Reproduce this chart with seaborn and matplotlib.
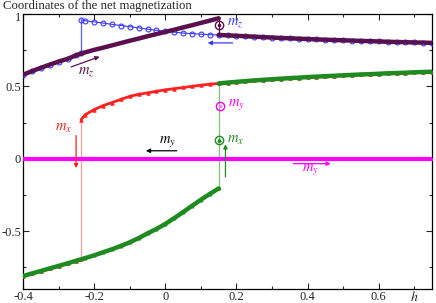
import numpy as np
import pandas as pd
import matplotlib
matplotlib.use('Agg')
import matplotlib.pyplot as plt
import matplotlib.transforms as mtransforms
import seaborn as sns

# sweep up in h (-0.4 -> 0.75), the jump at h = 0.15 shows as a repeated h
h_up = [-0.4, -0.375, -0.35, -0.325, -0.3, -0.275, -0.25, -0.225, -0.2, -0.175,
        -0.15, -0.125, -0.1, -0.075, -0.05, -0.025, 0.0, 0.025, 0.05, 0.075,
        0.1, 0.125, 0.15,
        0.15, 0.175, 0.2, 0.225, 0.25, 0.275, 0.3, 0.325, 0.35, 0.375, 0.4,
        0.425, 0.45, 0.475, 0.5, 0.525, 0.55, 0.575, 0.6, 0.625, 0.65, 0.675,
        0.7, 0.725, 0.75]
mx_up = [-0.81, -0.792, -0.775, -0.757, -0.74, -0.722, -0.704, -0.686, -0.667, -0.646,
         -0.625, -0.602, -0.577, -0.548, -0.515, -0.485, -0.45, -0.41, -0.368, -0.325,
         -0.283, -0.243, -0.205,
         0.52, 0.526, 0.531, 0.536, 0.541, 0.545, 0.549, 0.553, 0.557, 0.56, 0.564,
         0.567, 0.57, 0.573, 0.576, 0.579, 0.582, 0.584, 0.587, 0.59, 0.592, 0.594,
         0.597, 0.599, 0.601]
mz_up = [0.58, 0.605, 0.628, 0.65, 0.671, 0.69, 0.715, 0.735, 0.752, 0.767,
         0.783, 0.799, 0.815, 0.83, 0.846, 0.861, 0.876, 0.891, 0.907, 0.922,
         0.938, 0.954, 0.97,
         0.855, 0.852, 0.849, 0.846, 0.843, 0.84, 0.837, 0.834, 0.832, 0.829, 0.827,
         0.824, 0.822, 0.82, 0.818, 0.816, 0.814, 0.812, 0.81, 0.808, 0.806, 0.805,
         0.803, 0.802, 0.8]

# sweep down in h (0.75 -> -0.4), jump at h = -0.237
h_down = [0.75, 0.725, 0.7, 0.675, 0.65, 0.625, 0.6, 0.575, 0.55, 0.525,
          0.5, 0.475, 0.45, 0.425, 0.4, 0.375, 0.35, 0.325, 0.3, 0.275,
          0.25, 0.225, 0.2, 0.175, 0.15, 0.125, 0.1, 0.075, 0.05, 0.025,
          0.0, -0.025, -0.05, -0.075, -0.1, -0.125, -0.15, -0.175, -0.2, -0.225,
          -0.237,
          -0.237, -0.25, -0.275, -0.3, -0.325, -0.35, -0.375, -0.4]
mx_down = [0.601, 0.599, 0.597, 0.594, 0.592, 0.59, 0.587, 0.584, 0.582, 0.579,
           0.576, 0.573, 0.57, 0.567, 0.564, 0.56, 0.557, 0.553, 0.549, 0.545,
           0.541, 0.536, 0.531, 0.526, 0.52, 0.515, 0.508, 0.5, 0.492, 0.484,
           0.476, 0.466, 0.455, 0.445, 0.431, 0.41, 0.388, 0.367, 0.34, 0.305,
           0.27,
           -0.695, -0.704, -0.722, -0.74, -0.757, -0.775, -0.792, -0.81]
mz_down = [0.8, 0.802, 0.803, 0.805, 0.806, 0.808, 0.81, 0.812, 0.814, 0.816,
           0.818, 0.82, 0.822, 0.824, 0.827, 0.829, 0.832, 0.834, 0.837, 0.84,
           0.843, 0.846, 0.849, 0.852, 0.855, 0.857, 0.86, 0.864, 0.868, 0.874,
           0.88, 0.887, 0.895, 0.904, 0.912, 0.92, 0.928, 0.937, 0.945, 0.953,
           0.96,
           0.729, 0.715, 0.69, 0.671, 0.65, 0.628, 0.605, 0.58]
# m_y stays at zero on both sweeps
my_up = [0.0] * len(h_up)
my_down = [0.0] * len(h_down)

x_ticks = [-0.4, -0.2, 0, 0.2, 0.4, 0.6]
x_labels = ['-0.4', '-0.2', '0', '0.2', '0.4', '0.6']
y_ticks = [-0.5, 0, 0.5, 1]
y_labels = ['-0.5', '0', '0.5', '1']

PURPLE = '#5a0f4e'
BLUE = '#3a3aff'
RED = '#ff2020'
GREEN = '#1f8a1f'
MAGENTA = '#ff00ff'

sns.set_style('ticks')
plt.rcParams['font.family'] = ['Liberation Serif', 'DejaVu Serif']
plt.rcParams['mathtext.fontset'] = 'stix'
plt.rcParams['axes.unicode_minus'] = False


def split_jump(h, m):
    """cut a sweep where h repeats (the jump)"""
    h = np.asarray(h)
    m = np.asarray(m)
    cut = np.flatnonzero(np.diff(h) == 0)[0] + 1
    return (h[:cut], m[:cut]), (h[cut:], m[cut:]), (h[cut - 1:cut + 1], m[cut - 1:cut + 1])


def draw_sweep(ax, h, m, color, jump_color, z, **kw):
    a, b, jump = split_jump(h, m)
    sns.lineplot(x=jump[0], y=jump[1], sort=False, estimator=None, ax=ax,
                 color=jump_color, lw=0.9, zorder=z - 0.5)
    for xs, ys in (a, b):
        sns.lineplot(x=xs, y=ys, sort=False, estimator=None, ax=ax,
                     color=color, zorder=z, **kw)


fig = plt.figure(figsize=(4.36, 3.03), dpi=100)
ax = fig.add_axes([0.053, 0.046, 0.938, 0.908])

# backward sweep first (under), forward sweep on top
draw_sweep(ax, h_down, mz_down, BLUE, '#5a5aff', 3, lw=0.8, marker='o', ms=3.5,
           mfc='none', mec=BLUE, mew=0.8)
draw_sweep(ax, h_down, mx_down, RED, '#ff9a9a', 3, lw=2.0, marker='^', ms=2.5,
           mec=RED, mew=0.6)
sns.lineplot(x=h_down, y=my_down, sort=False, estimator=None, ax=ax,
             color='black', lw=1.2, zorder=3)

draw_sweep(ax, h_up, mz_up, PURPLE, PURPLE, 5, lw=3.2)
draw_sweep(ax, h_up, mx_up, GREEN, '#7cc47c', 5, lw=3.2, marker='^', ms=2.2,
           mec=GREEN, mew=0.6)
sns.lineplot(x=h_up, y=my_up, sort=False, estimator=None, ax=ax,
             color=MAGENTA, lw=3.0, marker='s', ms=2, mec=MAGENTA, zorder=5)

ax.set_xlim(-0.4, 0.75)
ax.set_ylim(-0.9, 1.0)
ax.set_xticks(x_ticks)
ax.set_xticklabels(x_labels)
ax.set_yticks(y_ticks)
ax.set_yticklabels(y_labels)
ax.set_xticks(np.arange(-0.4, 0.75, 0.1), minor=True)
ax.set_yticks(np.arange(-0.75, 1.0, 0.25), minor=True)
ax.tick_params(which='both', direction='in', top=True, right=True, labelsize=9,
               width=0.8, pad=1.5)
ax.tick_params(which='major', length=4.5)
ax.tick_params(which='minor', length=2.5)
ax.set_xlabel('')
ax.set_ylabel('')
for sp in ax.spines.values():
    sp.set_linewidth(0.9)
    sp.set_color('black')

# the top label "1" sits a little below its tick, clear of the title
top_lab = ax.get_yticklabels()[-1]
top_lab.set_transform(top_lab.get_transform()
                      + mtransforms.ScaledTranslation(0, -2.5 / 100, fig.dpi_scale_trans))

ax.text(0.7, -0.005, '$h$', transform=ax.get_xaxis_transform(), ha='center',
        va='top', fontsize=10)

fig.text(0.006, 1.0, 'Coordinates of the net magnetization', ha='left', va='top',
         fontsize=9.2)

# circled markers at the forward jump
ax.plot(0.152, 0.925, 'o', ms=6, mfc='none', mec=PURPLE, mew=1.0, zorder=7)
ax.plot(0.152, 0.925, 'o', ms=1.6, color=PURPLE, zorder=7)
ax.plot(0.154, 0.366, 'o', ms=6, mfc='none', mec=MAGENTA, mew=1.0, zorder=7)
ax.plot(0.154, 0.366, 's', ms=1.8, color='#ff80ff', zorder=7)
ax.plot(0.15, 0.131, 'o', ms=6, mfc='none', mec=GREEN, mew=1.0, zorder=7)
ax.plot(0.15, 0.128, '^', ms=2.2, color=GREEN, zorder=7)

lab = dict(fontsize=10.5, ha='left', va='center')
ax.text(0.172, 0.94, '$m_z$', color=BLUE, **lab)
ax.text(0.175, 0.375, '$m_y$', color=MAGENTA, **lab)
ax.text(0.172, 0.125, '$m_x$', color=GREEN, **lab)
ax.text(-0.222, 0.60, '$m_z$', color=PURPLE, fontsize=10.5, ha='center', va='center')
ax.text(-0.285, 0.21, '$m_x$', color=RED, fontsize=10.5, ha='center', va='center')
ax.text(0.007, 0.12, '$m_y$', color='black', fontsize=10.5, ha='center', va='center')
ax.text(0.407, -0.075, '$m_y$', color=MAGENTA, fontsize=10.5, ha='center', va='center')

arrows = [
    ((-0.265, 0.634), (-0.185, 0.705), PURPLE),
    ((0.189, 0.80), (0.119, 0.80), BLUE),
    ((-0.251, 0.16), (-0.251, -0.065), RED),
    ((0.032, 0.055), (-0.055, 0.055), 'black'),
    ((0.36, -0.034), (0.465, -0.034), MAGENTA),
    ((0.169, -0.125), (0.169, 0.10), GREEN),
]
for start, end, c in arrows:
    ax.annotate('', xy=end, xytext=start, zorder=8,
                arrowprops=dict(arrowstyle='-|>', color=c, lw=0.9,
                                mutation_scale=6, shrinkA=0, shrinkB=0))

fig.savefig('out.png', dpi=100)
